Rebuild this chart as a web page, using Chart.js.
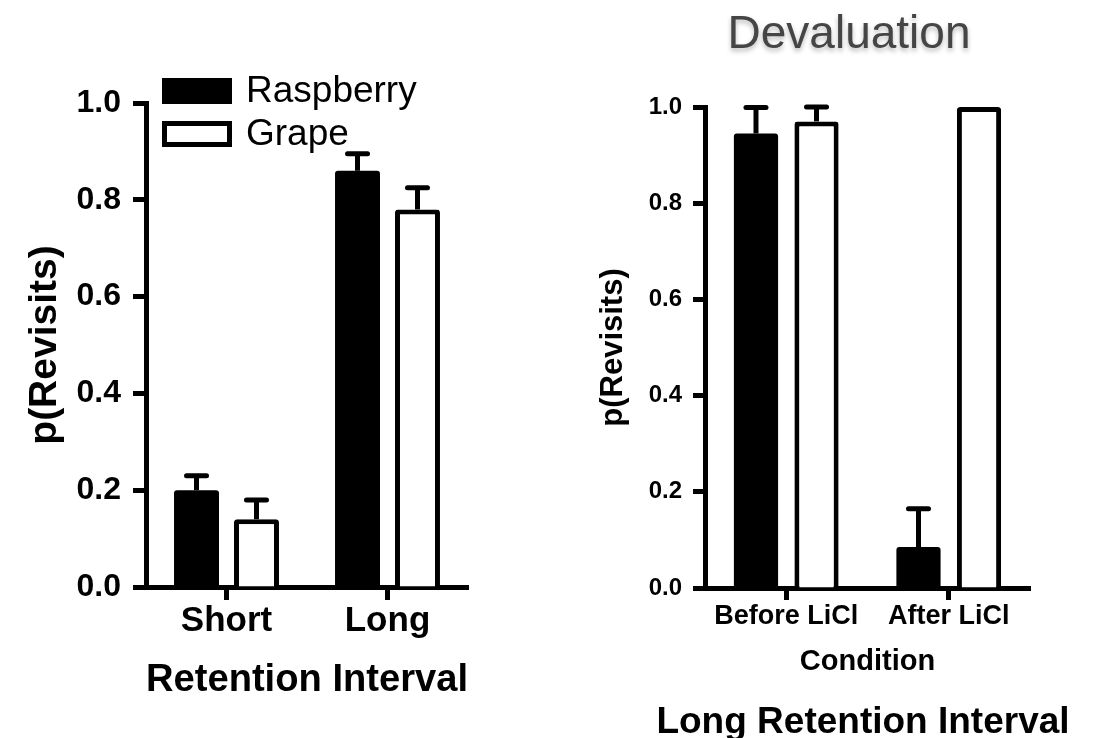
<!DOCTYPE html>
<html><head><meta charset="utf-8">
<script src="https://cdn.jsdelivr.net/npm/chart.js@4.4.1/dist/chart.umd.min.js"></script>
<style>
html,body{margin:0;padding:0;background:#fff;overflow:hidden;width:1096px;height:738px}
#c1{position:absolute;left:0;top:0}
#c2{position:absolute;left:560px;top:0}
</style></head><body>
<canvas id="c1" width="560" height="738"></canvas>
<canvas id="c2" width="536" height="738"></canvas>
<script>
const FONT = '"Liberation Sans", Arial, Helvetica, sans-serif';

// ---- data ----
const seriesNames = ['Raspberry', 'Grape'];
const retentionCategories = ['Short', 'Long'];
const retentionRaspberry = [0.20, 0.86];
const retentionRaspberryErr = [0.03, 0.035];
const retentionGrape = [0.14, 0.78];
const retentionGrapeErr = [0.04, 0.045];

const conditionCategories = ['Before LiCl', 'After LiCl'];
const devalRaspberry = [0.945, 0.085];
const devalRaspberryErr = [0.054, 0.08];
const devalGrape = [0.97, 1.0];
const devalGrapeErr = [0.03, 0];

const yTickValues = [0, 0.2, 0.4, 0.6, 0.8, 1.0];
const yAxisTitle = 'p(Revisits)';
const leftXTitle = 'Retention Interval';
const rightXTitle = 'Condition';
const rightSubtitle = 'Long Retention Interval';
const rightHeader = 'Devaluation';

// ---- plugins ----
const errorBars = {
  id: 'errorBars',
  afterDatasetsDraw(chart, args, opts) {
    const ctx = chart.ctx, y = chart.scales.y;
    chart.data.datasets.forEach((ds, i) => {
      const meta = chart.getDatasetMeta(i);
      meta.data.forEach((bar, j) => {
        const e = ds.errors ? ds.errors[j] : 0;
        if (!e) return;
        const top = y.getPixelForValue(ds.data[j] + e);
        ctx.save();
        ctx.strokeStyle = '#000';
        ctx.lineWidth = opts.stemWidth;
        ctx.beginPath(); ctx.moveTo(bar.x, bar.y); ctx.lineTo(bar.x, top); ctx.stroke();
        ctx.lineWidth = opts.capThickness; ctx.lineCap = 'round';
        ctx.beginPath(); ctx.moveTo(bar.x - opts.capHalf, top); ctx.lineTo(bar.x + opts.capHalf, top); ctx.stroke();
        ctx.restore();
      });
    });
  }
};

const boxLegend = {
  id: 'boxLegend',
  afterDraw(chart, args, opts) {
    if (!opts.display) return;
    const ctx = chart.ctx;
    chart.data.datasets.forEach((ds, i) => {
      const x = opts.x, y = opts.y + i * opts.rowGap, w = opts.boxWidth, h = opts.boxHeight;
      ctx.save();
      ctx.fillStyle = ds.borderColor;
      ctx.fillRect(x, y, w, h);
      const bw = opts.borderWidth;
      ctx.fillStyle = ds.backgroundColor;
      ctx.fillRect(x + bw, y + bw, w - 2 * bw, h - 2 * bw);
      ctx.fillStyle = '#000';
      ctx.font = opts.font;
      ctx.textBaseline = 'middle';
      ctx.textAlign = 'left';
      ctx.fillText(ds.label, x + w + opts.gap, y + h / 2 + 1);
      ctx.restore();
    });
  }
};

const extraTexts = {
  id: 'extraTexts',
  afterDraw(chart, args, opts) {
    const ctx = chart.ctx;
    (opts.items || []).forEach(it => {
      ctx.save();
      ctx.font = it.font;
      ctx.fillStyle = it.color;
      ctx.textAlign = 'center';
      ctx.textBaseline = 'alphabetic';
      if (it.shadow) {
        ctx.shadowColor = 'rgba(0,0,0,0.28)';
        ctx.shadowBlur = 5;
        ctx.shadowOffsetY = 3;
      }
      ctx.fillText(it.text, it.x, it.y);
      ctx.restore();
    });
  }
};

function makeChart(id, cfg) {
  const s = cfg.sizes;
  return new Chart(document.getElementById(id), {
    type: 'bar',
    data: {
      labels: cfg.labels,
      datasets: [
        { label: seriesNames[0], data: cfg.r, errors: cfg.rErr, backgroundColor: '#000000', borderColor: '#000000', borderWidth: 0, borderRadius: 3, borderSkipped: 'start', categoryPercentage: 0.745, barPercentage: s.barPct },
        { label: seriesNames[1], data: cfg.g, errors: cfg.gErr, backgroundColor: '#ffffff', borderColor: '#000000', borderWidth: {top: 5, left: 5, right: 5, bottom: 0}, borderRadius: 3, borderSkipped: 'start', categoryPercentage: 0.745, barPercentage: s.barPct }
      ]
    },
    plugins: [errorBars, boxLegend, extraTexts],
    options: {
      responsive: false,
      animation: false,
      devicePixelRatio: 1,
      events: [],
      layout: { padding: s.layout },
      plugins: {
        legend: { display: false },
        tooltip: { enabled: false },
        title: { display: false },
        subtitle: { display: false },
        errorBars: { stemWidth: 5, capThickness: 5, capHalf: 10 },
        boxLegend: cfg.legend || { display: false },
        extraTexts: { items: cfg.texts || [] }
      },
      scales: {
        x: {
          type: 'category',
          offset: true,
          afterFit(sc) { sc.height = s.xHeight; },
          grid: { display: true, offset: false, drawOnChartArea: false, drawTicks: true, tickLength: s.xTickLen, tickWidth: 5, tickColor: '#000', color: '#000' },
          border: { display: true, color: '#000', width: 5 },
          ticks: { color: '#000', font: { family: FONT, size: s.xTickFont, weight: 'bold', lineHeight: 1 }, padding: s.xTickPad, maxRotation: 0, minRotation: 0, autoSkip: false },
          title: { display: true, text: cfg.xTitle, color: '#000', font: { family: FONT, size: s.xTitleFont, weight: 'bold', lineHeight: 1 }, padding: { top: 0, bottom: s.xTitlePad } }
        },
        y: {
          type: 'linear',
          min: 0, max: 1,
          afterFit(sc) { sc.width = s.yWidth; },
          afterBuildTicks(sc) { sc.ticks = yTickValues.map(v => ({ value: v })); },
          grid: { display: true, drawOnChartArea: false, drawTicks: true, tickLength: s.yTickLen, tickWidth: 5, tickColor: '#000', color: '#000' },
          border: { display: true, color: '#000', width: 5 },
          ticks: { color: '#000', font: { family: FONT, size: s.yTickFont, weight: 'bold', lineHeight: 1 }, padding: s.yTickPad, callback: v => Number(v).toFixed(1) },
          title: { display: true, text: yAxisTitle, color: '#000', font: { family: FONT, size: s.yTitleFont, weight: 'bold', lineHeight: 1 }, padding: { top: s.yTitlePad, bottom: 0 } }
        }
      }
    }
  });
}

makeChart('c1', {
  labels: retentionCategories,
  r: retentionRaspberry, rErr: retentionRaspberryErr,
  g: retentionGrape, gErr: retentionGrapeErr,
  xTitle: leftXTitle,
  legend: { display: true, x: 162, y: 78, rowGap: 43, boxWidth: 70, boxHeight: 26, borderWidth: 5, gap: 14, font: '37px ' + FONT },
  sizes: {
    layout: { top: 103, right: 92, bottom: 0, left: 0 },
    barPct: 0.75,
    xHeight: 151, xTickLen: 13, xTickFont: 35, xTickPad: 4, xTitleFont: 39, xTitlePad: 38,
    yWidth: 146, yTickLen: 13, yTickFont: 32, yTickPad: 12, yTitleFont: 39, yTitlePad: 25.5
  }
});

makeChart('c2', {
  labels: conditionCategories,
  r: devalRaspberry, rErr: devalRaspberryErr,
  g: devalGrape, gErr: devalGrapeErr,
  xTitle: rightXTitle,
  texts: [
    { text: rightHeader, x: 289, y: 48, font: '46px ' + FONT, color: '#454545', shadow: true },
    { text: rightSubtitle, x: 303, y: 733, font: 'bold 37px ' + FONT, color: '#000', shadow: false }
  ],
  sizes: {
    layout: { top: 107, right: 66, bottom: 36, left: 0 },
    barPct: 0.73,
    xHeight: 114, xTickLen: 12, xTickFont: 27, xTickPad: 3.5, xTitleFont: 29, xTitlePad: 25.5,
    yWidth: 145, yTickLen: 12, yTickFont: 24, yTickPad: 11, yTitleFont: 31, yTitlePad: 37.5
  }
});
</script>
</body></html>
